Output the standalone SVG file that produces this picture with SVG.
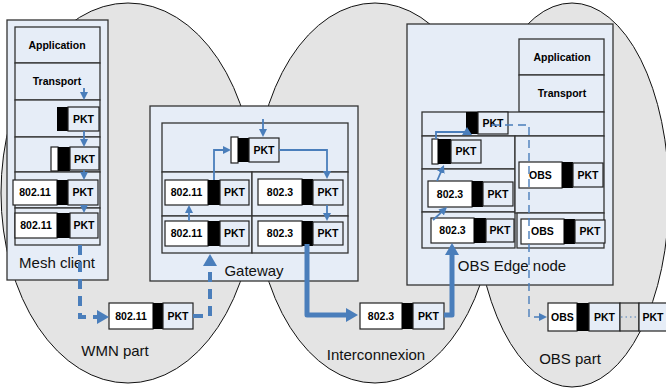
<svg xmlns="http://www.w3.org/2000/svg" width="666" height="388" viewBox="0 0 666 388">
<style>
.ell{fill:#e4e4e4;stroke:#111;stroke-width:1}
.box{fill:#e6edf7;stroke:#333;stroke-width:1.3}
.hdr{fill:#fff;stroke:#222;stroke-width:1.2}
.blk{fill:#000}
.pkt{fill:#e6edf7;stroke:#222;stroke-width:1.2}
.gry{fill:#dcdcdc;stroke:#222;stroke-width:1.2}
.t{font-family:"Liberation Sans",Arial,sans-serif;font-size:10.5px;font-weight:bold;text-anchor:middle;fill:#000}
.lbl{font-family:"Liberation Sans",Arial,sans-serif;font-size:15px;text-anchor:middle;fill:#111}
.c{fill:none;stroke:#4a7ebb;stroke-width:1.8}
.thin{marker-end:url(#a)}
.thick{stroke-width:5;stroke-linejoin:round;marker-end:url(#A)}
.dthick{stroke-width:4;stroke-dasharray:10 7;marker-end:url(#A)}
.dthin{stroke-width:1.4;stroke-dasharray:8 5;marker-end:url(#a)}
.af{fill:#4a7ebb}
</style>
<defs>
<marker id="a" markerUnits="userSpaceOnUse" markerWidth="8" markerHeight="8" refX="1" refY="4" orient="auto"><path d="M0,0 L8,4 L0,8 z" fill="#4a7ebb"/></marker>
<marker id="A" markerUnits="userSpaceOnUse" markerWidth="12" markerHeight="14" refX="1" refY="7" orient="auto"><path d="M0,0 L12,7 L0,14 z" fill="#4a7ebb"/></marker>
</defs>

<g id="regions">
<ellipse id="wmn-region" class="ell" cx="128" cy="193" rx="127" ry="190"/>
<ellipse id="inter-region" class="ell" cx="375" cy="193" rx="120" ry="190"/>
<ellipse id="obs-region" class="ell" cx="572" cy="195" rx="97" ry="192"/>
<text class="lbl" x="115" y="356">WMN part</text>
<text class="lbl" x="376" y="360">Interconnexion</text>
<text class="lbl" x="570" y="364">OBS part</text>
</g>

<g id="mesh-client">
<rect class="box" x="7" y="20" width="101" height="260"/>
<rect class="box" x="15" y="27" width="85" height="36"/>
<rect class="box" x="15" y="63" width="85" height="37"/>
<rect class="box" x="15" y="100" width="85" height="37"/>
<rect class="box" x="15" y="137" width="85" height="35"/>
<rect class="box" x="15" y="172" width="85" height="36"/>
<rect class="box" x="15" y="208" width="85" height="37"/>
<text class="t" x="57" y="49">Application</text>
<text class="t" x="57" y="85">Transport</text>
<rect class="blk" x="57" y="107" width="11" height="24"/>
<rect class="pkt" x="68" y="107" width="31" height="24"/>
<text class="t" x="83.5" y="122.5">PKT</text>
<rect class="hdr" x="51" y="147" width="7" height="24"/>
<rect class="blk" x="58" y="147" width="12" height="24"/>
<rect class="pkt" x="70" y="147" width="29" height="23"/>
<text class="t" x="84.5" y="162.5">PKT</text>
<rect class="hdr" x="13" y="180" width="44" height="25"/>
<rect class="blk" x="57" y="180" width="11" height="25"/>
<rect class="pkt" x="68" y="180" width="30" height="25"/>
<text class="t" x="35" y="196">802.11</text>
<text class="t" x="83" y="196">PKT</text>
<rect class="hdr" x="15" y="213" width="42" height="25"/>
<rect class="blk" x="57" y="213" width="13" height="25"/>
<rect class="pkt" x="70" y="213" width="28" height="25"/>
<text class="t" x="36" y="229">802.11</text>
<text class="t" x="84" y="229">PKT</text>
<text class="lbl" x="57" y="268">Mesh client</text>
</g>

<g id="gateway">
<rect class="box" x="150" y="106" width="208" height="175"/>
<rect class="box" x="162" y="123" width="186" height="49"/>
<rect class="box" x="162" y="172" width="90" height="44"/>
<rect class="box" x="252" y="172" width="96" height="44"/>
<rect class="box" x="162" y="216" width="90" height="37"/>
<rect class="box" x="252" y="216" width="96" height="37"/>
<rect class="hdr" x="231" y="137" width="7" height="26"/>
<rect class="blk" x="238" y="138" width="11" height="24"/>
<rect class="pkt" x="249" y="138" width="30" height="24"/>
<text class="t" x="264" y="153.5">PKT</text>
<rect class="hdr" x="165" y="180" width="43" height="25"/>
<rect class="blk" x="208" y="180" width="12" height="25"/>
<rect class="pkt" x="220" y="180" width="29" height="25"/>
<text class="t" x="186.5" y="196">802.11</text>
<text class="t" x="234.5" y="196">PKT</text>
<rect class="hdr" x="258" y="179" width="44" height="26"/>
<rect class="blk" x="302" y="179" width="11" height="26"/>
<rect class="pkt" x="313" y="180" width="30" height="25"/>
<text class="t" x="280" y="196">802.3</text>
<text class="t" x="328" y="196">PKT</text>
<rect class="hdr" x="165" y="221" width="43" height="25"/>
<rect class="blk" x="208" y="221" width="12" height="25"/>
<rect class="pkt" x="220" y="221" width="29" height="25"/>
<text class="t" x="186.5" y="237">802.11</text>
<text class="t" x="234.5" y="237">PKT</text>
<rect class="hdr" x="258" y="221" width="44" height="25"/>
<rect class="blk" x="302" y="221" width="11" height="25"/>
<rect class="pkt" x="313" y="222" width="30" height="23"/>
<text class="t" x="280" y="237">802.3</text>
<text class="t" x="328" y="237">PKT</text>
<text class="lbl" x="254" y="276">Gateway</text>
</g>

<g id="obs-edge">
<rect class="box" x="407" y="24" width="206" height="261"/>
<rect class="box" x="519" y="39" width="85" height="36"/>
<rect class="box" x="519" y="75" width="85" height="37"/>
<rect class="box" x="422" y="112" width="182" height="24"/>
<rect class="box" x="422" y="136" width="93" height="33"/>
<rect class="box" x="422" y="169" width="93" height="43"/>
<rect class="box" x="422" y="212" width="93" height="36"/>
<rect class="box" x="515" y="136" width="89" height="77"/>
<rect class="box" x="517" y="213" width="87" height="35"/>
<text class="t" x="562" y="61">Application</text>
<text class="t" x="562" y="97">Transport</text>
<rect class="blk" x="466" y="112" width="12" height="22"/>
<rect class="pkt" x="478" y="112" width="30" height="22"/>
<text class="t" x="493" y="127">PKT</text>
<rect class="hdr" x="432" y="139" width="6" height="25"/>
<rect class="blk" x="438" y="139" width="13" height="25"/>
<rect class="pkt" x="451" y="140" width="30" height="23"/>
<text class="t" x="466" y="155">PKT</text>
<rect class="hdr" x="428" y="181" width="44" height="26"/>
<rect class="blk" x="472" y="181" width="11" height="26"/>
<rect class="pkt" x="483" y="182" width="30" height="24"/>
<text class="t" x="450" y="197.5">802.3</text>
<text class="t" x="498" y="197.5">PKT</text>
<rect class="hdr" x="431" y="218" width="43" height="25"/>
<rect class="blk" x="474" y="218" width="12" height="25"/>
<rect class="pkt" x="486" y="219" width="28" height="23"/>
<text class="t" x="452.5" y="234">802.3</text>
<text class="t" x="500" y="234">PKT</text>
<rect class="hdr" x="519" y="162" width="43" height="26"/>
<rect class="blk" x="562" y="162" width="11" height="26"/>
<rect class="pkt" x="573" y="163" width="30" height="24"/>
<text class="t" x="540.5" y="178.5">OBS</text>
<text class="t" x="588" y="178.5">PKT</text>
<rect class="hdr" x="521" y="219" width="43" height="25"/>
<rect class="blk" x="564" y="219" width="11" height="25"/>
<rect class="pkt" x="575" y="220" width="30" height="23"/>
<text class="t" x="542.5" y="235">OBS</text>
<text class="t" x="590" y="235">PKT</text>
<text class="lbl" x="512" y="271">OBS Edge node</text>
</g>

<g id="wmn-frame">
<rect class="hdr" x="109" y="303" width="44" height="26"/>
<rect class="blk" x="153" y="303" width="10" height="26"/>
<rect class="pkt" x="163" y="303" width="30" height="26"/>
<text class="t" x="131" y="320">802.11</text>
<text class="t" x="178" y="320">PKT</text>
</g>

<g id="inter-frame">
<rect class="hdr" x="360" y="303" width="42" height="26"/>
<rect class="blk" x="402" y="303" width="11" height="26"/>
<rect class="pkt" x="413" y="303" width="31" height="26"/>
<text class="t" x="381" y="320">802.3</text>
<text class="t" x="428.5" y="320">PKT</text>
</g>

<g id="obs-burst">
<rect class="hdr" x="548" y="303" width="29" height="28"/>
<rect class="blk" x="577" y="303" width="12" height="28"/>
<rect class="pkt" x="589" y="303" width="31" height="28"/>
<rect class="gry" x="620" y="303" width="19" height="28"/>
<rect class="pkt" x="639" y="303" width="28" height="28"/>
<text class="t" x="562.5" y="321">OBS</text>
<text class="t" x="604.5" y="321">PKT</text>
<text class="t" x="653" y="321">PKT</text>
<path d="M621,317 H638" stroke="#4a7ebb" stroke-width="1" stroke-dasharray="1.5 3" fill="none"/>
</g>

<g id="connectors">
<path class="c thin" d="M84,88 V93"/>
<path class="c thin" d="M84,131 V140"/>
<path class="c thin" d="M84,170 V173"/>
<path class="c thin" d="M84,205 V206"/>
<path class="c dthick" d="M80,245 V317 H98"/>
<path class="c dthick" d="M193,316 H210 V265"/>
<path class="c thin" d="M263,119 V130"/>
<path class="c thin" d="M214,180 V150 H224"/>
<path class="c thin" d="M279,150 H327 V172"/>
<path class="c thin" d="M327,205 V214"/>
<path class="c thin" d="M189,221 V212"/>
<path class="c thick" d="M307,244 V315 H347"/>
<path class="c thick" d="M444,315 H452 V254"/>
<path class="c thin" d="M433,220 L441.9,211.8"/>
<path class="c thin" d="M437,181 L441.2,171.4"/>
<path class="c" d="M436,139 V132 H467"/>
<polygon class="af" points="462,135 472,135 467,127"/>
<path class="c dthin" d="M492,125 H529 V317 H540"/>
</g>
</svg>
